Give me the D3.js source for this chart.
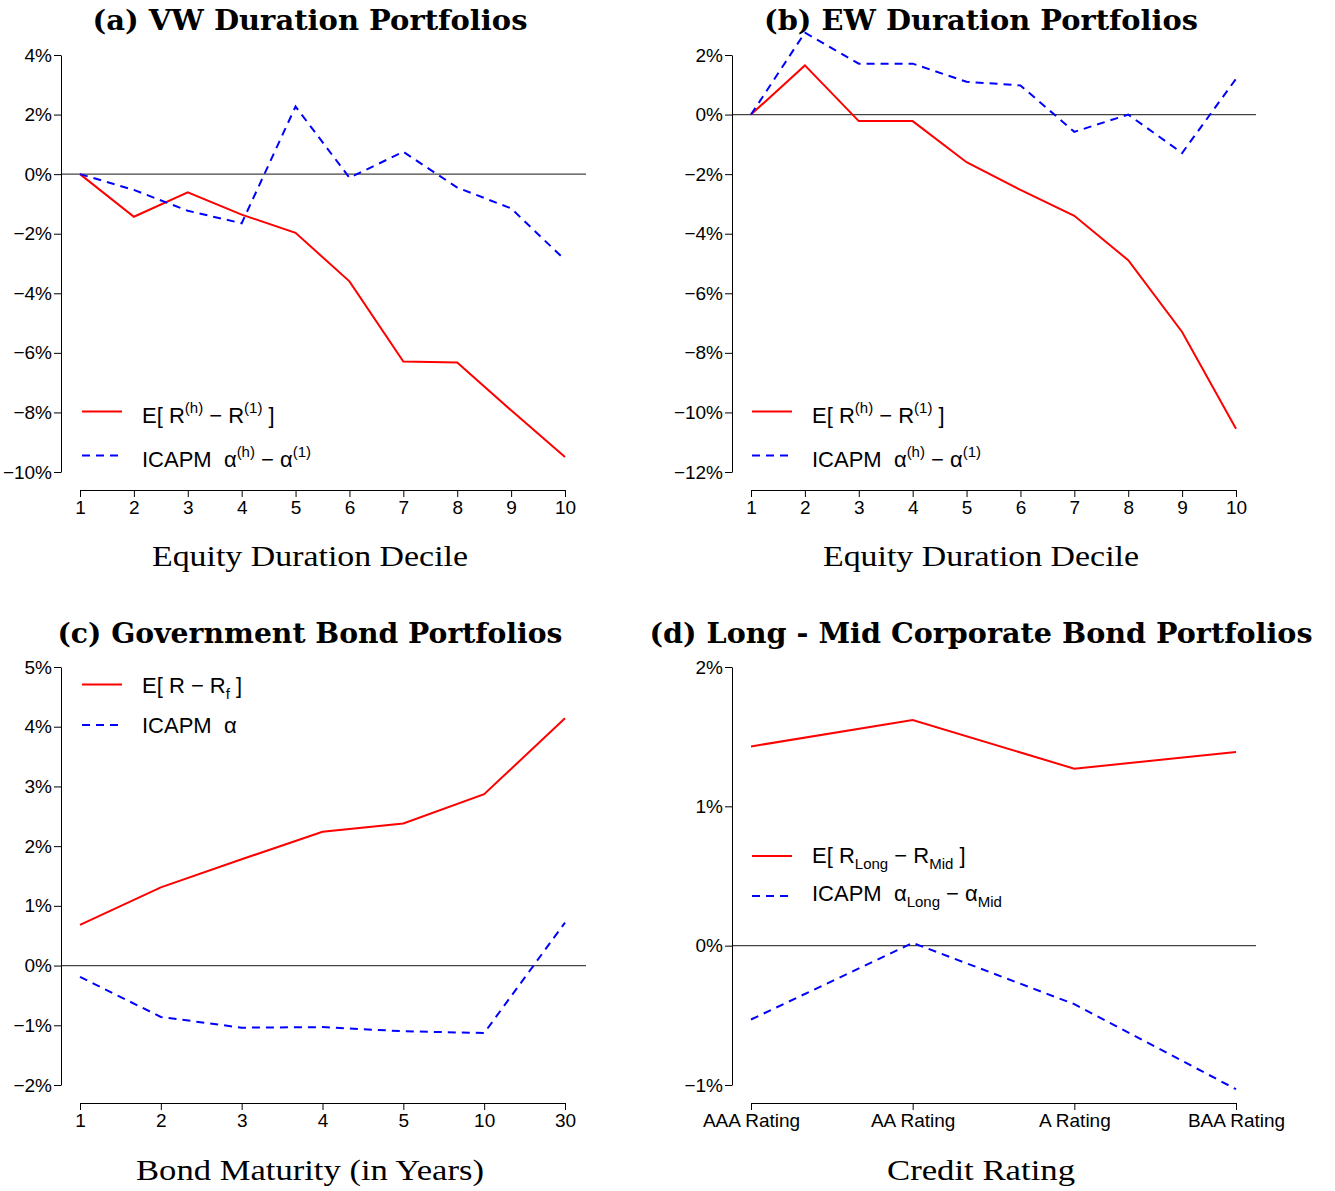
<!DOCTYPE html>
<html>
<head>
<meta charset="utf-8">
<script src="https://cdn.jsdelivr.net/npm/d3@7"></script>
<style>
  body { margin: 0; background: #fff; }
  text { white-space: pre; }
</style>
</head>
<body>
<div id="chart"></div>
<script>
// --- data (percent) ---
const deciles = ["1", "2", "3", "4", "5", "6", "7", "8", "9", "10"];
const vwExcess = [0, -1.43, -0.61, -1.36, -1.97, -3.6, -6.29, -6.32, -7.93, -9.5];
const vwAlpha = [0, -0.53, -1.23, -1.65, 2.27, -0.12, 0.75, -0.45, -1.15, -2.88];
const ewExcess = [0, 1.65, -0.22, -0.22, -1.6, -2.53, -3.4, -4.89, -7.3, -10.55];
const ewAlpha = [0, 2.75, 1.71, 1.71, 1.1, 0.98, -0.58, 0, -1.29, 1.2];

const maturities = ["1", "2", "3", "4", "5", "10", "30"];
const govExcess = [0.68, 1.31, 1.78, 2.24, 2.38, 2.87, 4.14];
const govAlpha = [-0.19, -0.86, -1.04, -1.03, -1.1, -1.13, 0.72];

const ratings = ["AAA Rating", "AA Rating", "A Rating", "BAA Rating"];
const corpExcess = [1.43, 1.62, 1.27, 1.39];
const corpAlpha = [-0.53, 0.02, -0.42, -1.03];

const vwTicks = [4, 2, 0, -2, -4, -6, -8, -10];
const ewTicks = [2, 0, -2, -4, -6, -8, -10, -12];
const govTicks = [5, 4, 3, 2, 1, 0, -1, -2];
const corpTicks = [2, 1, 0, -1];

const width = 1335, height = 1191;
const sansFont = "'Liberation Sans', Arial, sans-serif";
const serifFont = "'DejaVu Serif', serif";

const svg = d3.select("#chart").append("svg")
    .attr("width", width)
    .attr("height", height);

const panels = [
    {
        title: "(a) VW Duration Portfolios", titleW: 435, xTitle: "Equity Duration Decile", xTitleW: 316,
        cats: deciles, red: vwExcess, blue: vwAlpha, ticks: vwTicks,
        axisX: 61, x0: 80, x1: 565, right: 586, yTop: 55, yBot: 472, xAxisY: 490,
        cx: 310, titleY: 30, xTitleY: 566,
        legend: { x: 82, y1: 411.5, b1: 423, y2: 455.5, b2: 467 },
        redLabel: [{ t: "E[ R" }, { t: "(h)", sup: true }, { t: " − R" }, { t: "(1)", sup: true }, { t: " ]" }],
        blueLabel: [{ t: "ICAPM  α" }, { t: "(h)", sup: true }, { t: " − α" }, { t: "(1)", sup: true }]
    },
    {
        title: "(b) EW Duration Portfolios", titleW: 434, xTitle: "Equity Duration Decile", xTitleW: 316,
        cats: deciles, red: ewExcess, blue: ewAlpha, ticks: ewTicks,
        axisX: 732, x0: 751, x1: 1236, right: 1256, yTop: 55, yBot: 472, xAxisY: 490,
        cx: 981, titleY: 30, xTitleY: 566,
        legend: { x: 752, y1: 411.5, b1: 423, y2: 455.5, b2: 467 },
        redLabel: [{ t: "E[ R" }, { t: "(h)", sup: true }, { t: " − R" }, { t: "(1)", sup: true }, { t: " ]" }],
        blueLabel: [{ t: "ICAPM  α" }, { t: "(h)", sup: true }, { t: " − α" }, { t: "(1)", sup: true }]
    },
    {
        title: "(c) Government Bond Portfolios", titleW: 505, xTitle: "Bond Maturity (in Years)", xTitleW: 348,
        cats: maturities, red: govExcess, blue: govAlpha, ticks: govTicks,
        axisX: 61, x0: 80, x1: 565, right: 586, yTop: 667, yBot: 1085, xAxisY: 1103,
        cx: 310, titleY: 643, xTitleY: 1180,
        legend: { x: 82, y1: 684.5, b1: 693, y2: 725, b2: 733 },
        redLabel: [{ t: "E[ R − R" }, { t: "f", sub: true }, { t: " ]" }],
        blueLabel: [{ t: "ICAPM  α" }]
    },
    {
        title: "(d) Long - Mid Corporate Bond Portfolios", titleW: 663, xTitle: "Credit Rating", xTitleW: 188,
        cats: ratings, red: corpExcess, blue: corpAlpha, ticks: corpTicks,
        axisX: 732, x0: 751, x1: 1236, right: 1256, yTop: 667, yBot: 1085, xAxisY: 1103,
        cx: 981, titleY: 643, xTitleY: 1180,
        legend: { x: 752, y1: 856, b1: 863, y2: 896, b2: 901 },
        redLabel: [{ t: "E[ R" }, { t: "Long", sub: true }, { t: " − R" }, { t: "Mid", sub: true }, { t: " ]" }],
        blueLabel: [{ t: "ICAPM  α" }, { t: "Long", sub: true }, { t: " − α" }, { t: "Mid", sub: true }]
    }
];

function fmtPct(d) {
    return (d < 0 ? "−" : "") + Math.abs(d) + "%";
}

// text with super/subscripts built from tspans
function richText(g, x, y, parts) {
    const t = g.append("text")
        .attr("x", x).attr("y", y)
        .attr("font-family", sansFont)
        .attr("font-size", 22)
        .attr("fill", "#000");
    let cur = 0;
    parts.forEach(p => {
        const off = p.sup ? -10 : (p.sub ? 6 : 0);
        t.append("tspan")
            .attr("dy", off - cur)
            .attr("font-size", (p.sup || p.sub) ? 15 : 22)
            .text(p.t);
        cur = off;
    });
}

function drawPanel(p) {
    const g = svg.append("g");
    const x = d3.scalePoint().domain(p.cats).range([p.x0, p.x1]);
    const y = d3.scaleLinear().domain([d3.min(p.ticks), d3.max(p.ticks)]).range([p.yBot, p.yTop]);

    // zero line
    g.append("line")
        .attr("x1", p.axisX).attr("x2", p.right)
        .attr("y1", y(0)).attr("y2", y(0))
        .attr("stroke", "#444").attr("stroke-width", 1.3);

    // y axis
    const yAxis = g.append("g")
        .attr("transform", `translate(${p.axisX},0)`)
        .call(d3.axisLeft(y).tickValues(p.ticks).tickFormat(fmtPct).tickSize(7).tickSizeOuter(0).tickPadding(2));
    // x axis
    const xAxis = g.append("g")
        .attr("transform", `translate(0,${p.xAxisY})`)
        .call(d3.axisBottom(x).tickSize(7).tickSizeOuter(0).tickPadding(4));
    [yAxis, xAxis].forEach(a => {
        a.selectAll("text").attr("font-family", sansFont).attr("font-size", 19).attr("fill", "#000");
        a.selectAll("path, line").attr("stroke", "#000").attr("stroke-width", 1);
    });

    const line = d3.line().x((d, i) => x(p.cats[i])).y(d => y(d));

    g.append("path").datum(p.red)
        .attr("d", line)
        .attr("fill", "none").attr("stroke", "#ff0000").attr("stroke-width", 2);
    g.append("path").datum(p.blue)
        .attr("d", line)
        .attr("fill", "none").attr("stroke", "#0000ff").attr("stroke-width", 2)
        .attr("stroke-dasharray", "8,6");

    // legend
    const L = p.legend;
    g.append("line").attr("x1", L.x).attr("x2", L.x + 40).attr("y1", L.y1).attr("y2", L.y1)
        .attr("stroke", "#ff0000").attr("stroke-width", 2);
    g.append("line").attr("x1", L.x).attr("x2", L.x + 40).attr("y1", L.y2).attr("y2", L.y2)
        .attr("stroke", "#0000ff").attr("stroke-width", 2).attr("stroke-dasharray", "8,6");
    richText(g, L.x + 60, L.b1, p.redLabel);
    richText(g, L.x + 60, L.b2, p.blueLabel);

    // titles
    g.append("text")
        .attr("x", p.cx).attr("y", p.titleY)
        .attr("text-anchor", "middle")
        .attr("font-family", serifFont).attr("font-weight", "bold").attr("font-size", 27)
        .attr("textLength", p.titleW).attr("lengthAdjust", "spacingAndGlyphs")
        .text(p.title);
    g.append("text")
        .attr("x", p.cx).attr("y", p.xTitleY)
        .attr("text-anchor", "middle")
        .attr("font-family", "'Liberation Serif', serif").attr("font-size", 29)
        .attr("textLength", p.xTitleW).attr("lengthAdjust", "spacingAndGlyphs")
        .text(p.xTitle);
}

panels.forEach(drawPanel);
</script>
</body>
</html>
